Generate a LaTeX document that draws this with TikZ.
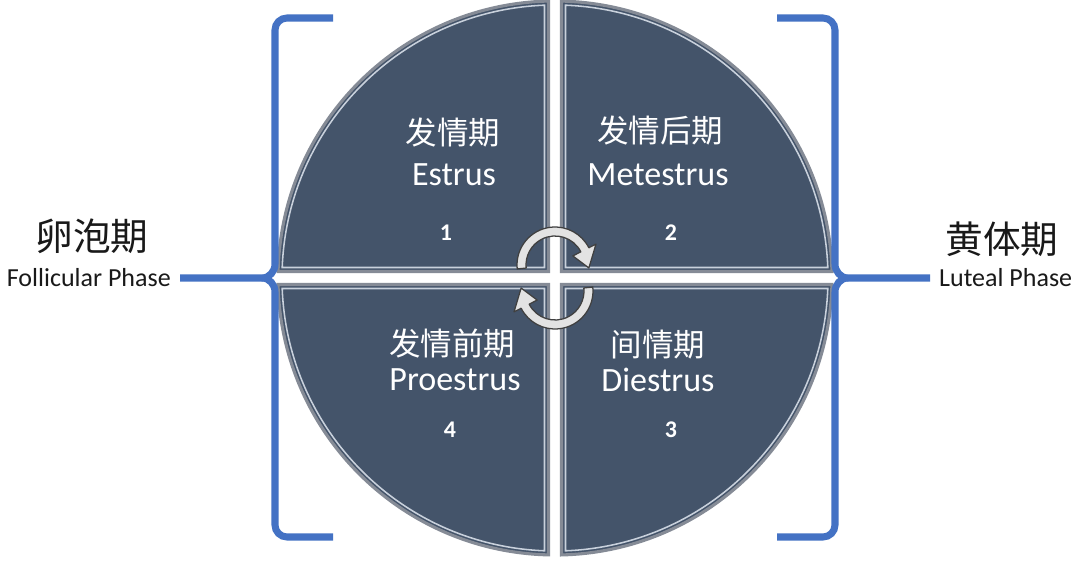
\documentclass[tikz,border=0pt]{standalone}
\usepackage{fontspec}
\setmainfont{Carlito}
\newfontfamily\cjk{Noto Sans CJK SC}
\usepackage{tikz}
\usetikzlibrary{positioning}
\definecolor{quadcol}{HTML}{44546A}
\definecolor{rimcol}{HTML}{858B96}
\definecolor{rimlight}{HTML}{C9D1DC}
\definecolor{bracecol}{HTML}{4472C4}

\begin{document}
\begin{tikzpicture}[x=0.025cm,y=0.025cm,
		quad/.style={fill=quadcol,draw=rimcol,line width=2.2pt},
		hilite/.style={draw=rimlight,line width=1.1pt},
		turn/.style={fill=gray!22,draw=black!75,line width=0.9pt,line join=round},
		brace/.style={draw=bracecol,line width=5pt,line cap=butt},
		cn/.style={text=white,font=\cjk\fontsize{22.4}{24}\selectfont},
		en/.style={text=white,font=\fontsize{24.2}{26}\selectfont},
		num/.style={text=white,font=\bfseries\fontsize{17}{19}\selectfont},
		bigcn/.style={text=black!90,font=\cjk\fontsize{26.8}{28}\selectfont},
		phase/.style={text=black!90,font=\fontsize{18.5}{20}\selectfont}]
			\useasboundingbox (0,0) rectangle (1080,566);
			\fill[white] (0,0) rectangle (1080,566);
			\coordinate (O) at (555,288);
			% four quarters of the disc
			\foreach \a in {0,90,180,270} {
				\begin{scope}[rotate around={\a:(O)}]
					\draw[quad] (561.5,294.5) -- (561.5,564.9) arc[start angle=88.66,end angle=1.34,radius=277] -- cycle;
					\draw[hilite] (565.5,298.5) -- (565.5,560.8) arc[start angle=87.8,end angle=2.2,radius=273] -- cycle;
				\end{scope}
			}
			% turning arrows
			\foreach \a in {0,180} {
				\begin{scope}[shift={(O)},rotate=\a,shift={(0,13)}]
					\draw[turn] (186:38) arc[start angle=186,end angle=27,radius=38] -- (27:46) -- (-5:34) -- (27:20) -- (27:29) arc[start angle=27,end angle=186,radius=29] -- cycle;
				\end{scope}
			}
			% stage labels
			\node[cn] (c1) at (453,433) {发情期};
			\node[en] (e1) at (454,391) {Estrus};
			\node[num] (n1) at (446,333) {1};
			\node[cn] (c2) at (660,435) {发情后期};
			\node[en] (e2) at (658,391) {Metestrus};
			\node[num] (n2) at (671,333) {2};
			\node[cn] (c4) at (452,222) {发情前期};
			\node[en] (e4) at (455,186) {Proestrus};
			\node[num] (n4) at (450,136) {4};
			\node[cn] (c3) at (658,221) {间情期};
			\node[en] (e3) at (658,186) {Diestrus};
			\node[num] (n3) at (671,136) {3};
			% brackets
			\coordinate (ls) at (180,288);
			\coordinate (rs) at (930,288);
			\draw[brace] (333,548) -- (287,548) to[out=180,in=90] (275,536) -- (275,302) to[out=-90,in=0] (262,288) -- (ls);
			\draw[brace] (333,29) -- (287,29) to[out=180,in=-90] (275,41) -- (275,274) to[out=90,in=0] (262,288);
			\draw[brace] (777,548) -- (823,548) to[out=0,in=90] (835,536) -- (835,302) to[out=-90,in=180] (848,288) -- (rs);
			\draw[brace] (777,29) -- (823,29) to[out=0,in=-90] (835,41) -- (835,274) to[out=90,in=180] (848,288);
			% phase labels
			\node[phase,left=3pt of ls] (fp) {Follicular Phase};
			\node[bigcn] (fc) at (92,330) {卵泡期};
			\node[phase,right=3pt of rs] (lp) {Luteal Phase};
			\node[bigcn] (lc) at (1002,327) {黄体期};
		\end{tikzpicture}
\end{document}
